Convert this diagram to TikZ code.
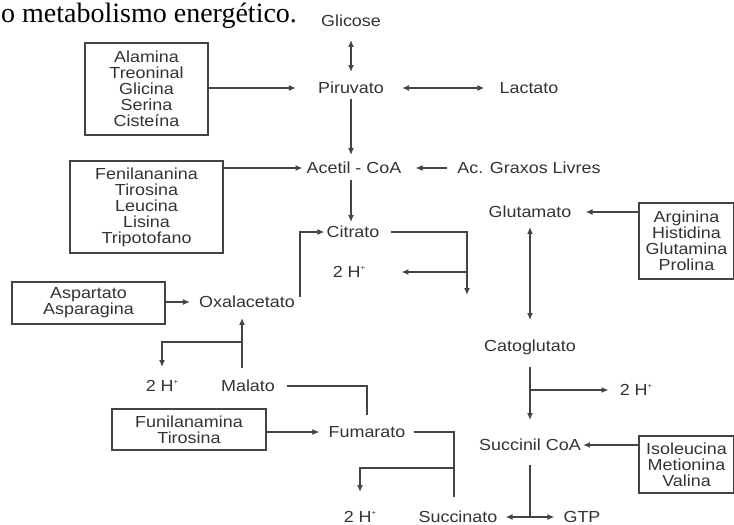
\documentclass[tikz,border=0pt]{standalone}
\usepackage{fontspec}
\setmainfont{Liberation Sans}[FakeStretch=1.12]
\newfontfamily\legenda{Liberation Serif}
\usetikzlibrary{arrows.meta}
\definecolor{cinza}{HTML}{444444}
\definecolor{texto}{HTML}{333333}
\newcommand{\hmais}{2 H\raisebox{0.45em}{\fontsize{7}{7}\selectfont +}}
\tikzset{rotulo/.style={inner sep=0pt,text height=11.5pt,text depth=0pt,text=texto,font=\fontsize{16}{16}\selectfont},
  caixa/.style={draw=cinza,line width=1.5pt,align=center,inner sep=0pt,text=texto,font=\fontsize{16}{16}\selectfont},
  seta/.style={line width=1.5pt,draw=cinza,-{Latex[length=7pt,width=6pt]}},
  setadupla/.style={line width=1.5pt,draw=cinza,{Latex[length=7pt,width=6pt]}-{Latex[length=7pt,width=6pt]}},
  traco/.style={line width=1.5pt,draw=cinza}}

\begin{document}
\begin{tikzpicture}[x=1pt,y=-1pt]
  \clip (0,0) rectangle (734,525);
  \node[anchor=base west,inner sep=0pt,font=\legenda\fontsize{28}{28}\selectfont] (titulo) at (1,22) {o metabolismo energético.};

  \node[rotulo] (glicose) at (351,21) {Glicose};
  \node[rotulo] (piruvato) at (351,88) {Piruvato};
  \node[rotulo] (lactato) at (529,88) {Lactato};
  \node[rotulo] (acetil) at (354,168) {Acetil - CoA};
  \node[rotulo] (graxos) at (529,168) {Ac. Graxos Livres};
  \node[rotulo] (citrato) at (353,232) {Citrato};
  \node[rotulo] (hcit) at (349,272) {\hmais};
  \node[rotulo] (oxal) at (247,302) {Oxalacetato};
  \node[rotulo] (malato) at (248,386) {Malato};
  \node[rotulo] (hmal) at (162,386) {\hmais};
  \node[rotulo] (fumarato) at (367,432) {Fumarato};
  \node[rotulo] (hfum) at (360,517) {\hmais};
  \node[rotulo] (succinato) at (458,517) {Succinato};
  \node[rotulo] (gtp) at (582,517) {GTP};
  \node[rotulo] (glutamato) at (530,212) {Glutamato};
  \node[rotulo] (catoglutato) at (530,346) {Catoglutato};
  \node[rotulo] (hcat) at (636,390) {\hmais};
  \node[rotulo] (succinil) at (530,445) {Succinil CoA};

  \node[caixa,minimum width=123pt,minimum height=92pt] (grupoA) at (146.5,89) {Alamina\\Treoninal\\Glicina\\Serina\\Cisteína};
  \node[caixa,minimum width=153pt,minimum height=92pt] (grupoB) at (146.5,207) {Fenilananina\\Tirosina\\Leucina\\Lisina\\Tripotofano};
  \node[caixa,minimum width=153pt,minimum height=42pt] (grupoC) at (88.5,303) {Aspartato\\Asparagina};
  \node[caixa,minimum width=154pt,minimum height=41pt] (grupoD) at (189,429.5) {Funilanamina\\Tirosina};
  \node[caixa,minimum width=95pt,minimum height=76pt] (grupoE) at (686.5,241) {Arginina\\Histidina\\Glutamina\\Prolina};
  \node[caixa,minimum width=95pt,minimum height=57pt] (grupoF) at (686.5,464.5) {Isoleucina\\Metionina\\Valina};

  \coordinate (citfim) at (467,295);
  \coordinate (citram) at (467,272);
  \coordinate (malram) at (242,342);
  \coordinate (fumram) at (454,468);
  \coordinate (catram) at (530,390);

  \draw[setadupla,shorten <=13pt,shorten >=10pt] (glicose) -- (piruvato);
  \draw[seta,shorten >=22pt] (grupoA.east |- piruvato) -- (piruvato.west);
  \draw[setadupla,shorten <=18pt,shorten >=15pt] (piruvato) -- (lactato);
  \draw[seta,shorten <=5pt,shorten >=7pt] (piruvato.south) -- (piruvato.south |- acetil.north);
  \draw[seta,shorten >=4pt] (grupoB.east |- acetil) -- (acetil.west);
  \draw[seta,shorten <=10pt,shorten >=14pt] (graxos) -- (acetil);
  \draw[seta,shorten <=6pt,shorten >=4pt] (piruvato.south |- acetil.south) -- (piruvato.south |- citrato.north);
  \draw[seta,shorten >=2pt] ([xshift=5pt,yshift=5pt]oxal.east) |- (citrato.west);
  \draw[seta,shorten <=11pt] (citrato.east) -| (citfim);
  \draw[seta,shorten >=36pt] (citram) -- (hcit.east);
  \draw[setadupla,shorten <=9pt,shorten >=20pt] (glutamato) -- (catoglutato);
  \draw[seta,shorten >=14pt] (grupoE.west |- glutamato) -- (glutamato.east);
  \draw[seta,shorten >=9pt] (grupoC.east |- oxal) -- (oxal.west);
  \draw[seta,shorten <=12pt,shorten >=10pt] ([xshift=-6pt]malato.north) -- ([xshift=-6pt]malato.north |- oxal.south);
  \draw[seta,shorten >=13pt] (malram) -| (hmal.north);
  \draw[traco,shorten <=12pt,shorten >=11pt] (malato.east) -| (fumarato.north);
  \draw[seta,shorten >=9pt] (grupoD.east |- fumarato) -- (fumarato.west);
  \draw[traco,shorten <=8pt,shorten >=14pt] (fumarato.east) -| ([xshift=-4pt]succinato.north);
  \draw[seta,shorten >=19pt] (fumram) -| (hfum.north);
  \draw[seta,shorten <=15pt,shorten >=19pt] (catoglutato) -- (succinil);
  \draw[seta,shorten >=11pt] (catram) -- (hcat.west);
  \draw[seta,shorten >=2pt] (grupoF.west |- succinil) -- (succinil.east);
  \draw[traco,shorten <=14pt] (succinil.south) -- (succinil.south |- gtp);
  \draw[setadupla,shorten <=8pt,shorten >=9pt] (succinato) -- (gtp);
\end{tikzpicture}
\end{document}
